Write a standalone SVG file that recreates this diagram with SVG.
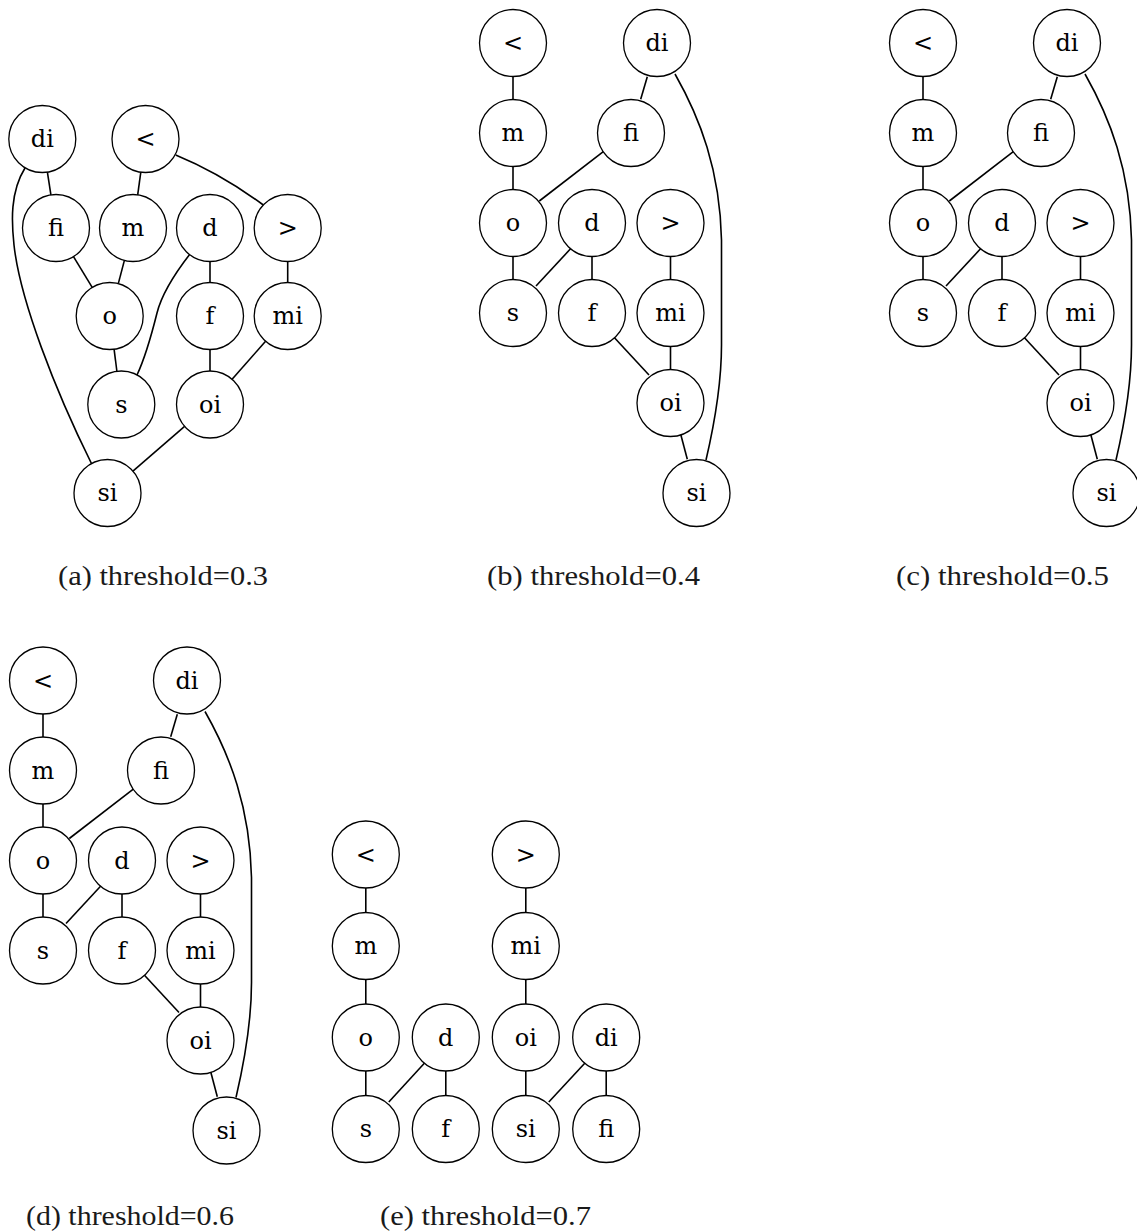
<svg xmlns="http://www.w3.org/2000/svg" width="1137" height="1231" viewBox="0 0 1137 1231">
  <style>
    .node circle { fill: #ffffff; stroke: #000000; stroke-width: 1.3; }
    .node text { font-family: "DejaVu Serif", "Liberation Serif", serif; font-size: 24px; text-anchor: middle; fill: #000000; }
    .edges path { fill: none; stroke: #000000; stroke-width: 1.6; }
    .cap { font-family: "Liberation Serif", "DejaVu Serif", serif; font-size: 28px; fill: #1a1a1a; }
  </style>
  <rect width="1137" height="1231" fill="#ffffff"/>

  <!-- (a) threshold 0.3 -->
  <g id="graph-a">
    <g id="edges-a" class="edges">
      <path d="M47.4,172.1 L50.9,194.9"/>
      <path d="M140.8,172.2 L137.7,194.8"/>
      <path d="M175.7,155 Q220.5,173.4 263.3,205"/>
      <path d="M73.5,256.6 L92.2,287.4"/>
      <path d="M124.4,260.4 L118.3,283.6"/>
      <path d="M190,254 C176,272 162,293 157,313 C152,333 145,358 137,375"/>
      <path d="M210,261.5 L210,282.5"/>
      <path d="M287.7,261.5 L287.7,282.5"/>
      <path d="M114.1,349.2 L116.9,371.3"/>
      <path d="M210,349.5 L210,371"/>
      <path d="M265.6,341.2 L232.1,379.3"/>
      <path d="M184.6,426.4 L132.9,471.1"/>
      <path d="M25,168 C10,192 11.5,222 14,245 C20,300 55,390 91.7,464"/>
    </g>
    <g id="a-di" class="node"><circle cx="42.3" cy="139" r="33.5"/><text x="42.3" y="147">di</text></g>
    <g id="a-lt" class="node"><circle cx="145.5" cy="139" r="33.5"/><text x="145.5" y="147">&lt;</text></g>
    <g id="a-fi" class="node"><circle cx="56" cy="228" r="33.5"/><text x="56" y="236">fi</text></g>
    <g id="a-m" class="node"><circle cx="133" cy="228" r="33.5"/><text x="133" y="236">m</text></g>
    <g id="a-d" class="node"><circle cx="210" cy="228" r="33.5"/><text x="210" y="236">d</text></g>
    <g id="a-gt" class="node"><circle cx="287.7" cy="228" r="33.5"/><text x="287.7" y="236">&gt;</text></g>
    <g id="a-o" class="node"><circle cx="109.7" cy="316" r="33.5"/><text x="109.7" y="324">o</text></g>
    <g id="a-f" class="node"><circle cx="210" cy="316" r="33.5"/><text x="210" y="324">f</text></g>
    <g id="a-mi" class="node"><circle cx="287.7" cy="316" r="33.5"/><text x="287.7" y="324">mi</text></g>
    <g id="a-s" class="node"><circle cx="121.3" cy="404.5" r="33.5"/><text x="121.3" y="412.5">s</text></g>
    <g id="a-oi" class="node"><circle cx="210" cy="404.5" r="33.5"/><text x="210" y="412.5">oi</text></g>
    <g id="a-si" class="node"><circle cx="107.5" cy="493" r="33.5"/><text x="107.5" y="501">si</text></g>
  </g>

  <!-- (b) threshold 0.4 -->
  <g id="graph-b">
    <g id="edges-b" class="edges">
      <path d="M513,76.5 V99.5"/>
      <path d="M513,166.5 V189.5"/>
      <path d="M513,256.5 V279.5"/>
      <path d="M647.3,76.7 L640.7,99.3"/>
      <path d="M603.3,151.7 L539.3,201"/>
      <path d="M571,248.3 L536,286"/>
      <path d="M592,256.5 V279.5"/>
      <path d="M670.5,256.5 V279.5"/>
      <path d="M614,337.3 L649,375"/>
      <path d="M670.5,346.5 V369.5"/>
      <path d="M680.7,434.3 L687.3,459.3"/>
      <path d="M675,74 C700,118 720,170 721.5,240 L721.5,345 C721.5,390 713,430 706,460"/>
    </g>
    <g id="b-lt" class="node"><circle cx="513" cy="43" r="33.5"/><text x="513" y="51">&lt;</text></g>
    <g id="b-di" class="node"><circle cx="657" cy="43" r="33.5"/><text x="657" y="51">di</text></g>
    <g id="b-m" class="node"><circle cx="513" cy="133" r="33.5"/><text x="513" y="141">m</text></g>
    <g id="b-fi" class="node"><circle cx="631" cy="133" r="33.5"/><text x="631" y="141">fi</text></g>
    <g id="b-o" class="node"><circle cx="513" cy="223" r="33.5"/><text x="513" y="231">o</text></g>
    <g id="b-d" class="node"><circle cx="592" cy="223" r="33.5"/><text x="592" y="231">d</text></g>
    <g id="b-gt" class="node"><circle cx="670.5" cy="223" r="33.5"/><text x="670.5" y="231">&gt;</text></g>
    <g id="b-s" class="node"><circle cx="513" cy="313" r="33.5"/><text x="513" y="321">s</text></g>
    <g id="b-f" class="node"><circle cx="592" cy="313" r="33.5"/><text x="592" y="321">f</text></g>
    <g id="b-mi" class="node"><circle cx="670.5" cy="313" r="33.5"/><text x="670.5" y="321">mi</text></g>
    <g id="b-oi" class="node"><circle cx="670.5" cy="403" r="33.5"/><text x="670.5" y="411">oi</text></g>
    <g id="b-si" class="node"><circle cx="696.5" cy="493" r="33.5"/><text x="696.5" y="501">si</text></g>
  </g>

  <!-- (c) threshold 0.5: same layout as (b), shifted right -->
  <g id="graph-c" transform="translate(410,0)">
    <g id="edges-c" class="edges">
      <path d="M513,76.5 V99.5"/>
      <path d="M513,166.5 V189.5"/>
      <path d="M513,256.5 V279.5"/>
      <path d="M647.3,76.7 L640.7,99.3"/>
      <path d="M603.3,151.7 L539.3,201"/>
      <path d="M571,248.3 L536,286"/>
      <path d="M592,256.5 V279.5"/>
      <path d="M670.5,256.5 V279.5"/>
      <path d="M614,337.3 L649,375"/>
      <path d="M670.5,346.5 V369.5"/>
      <path d="M680.7,434.3 L687.3,459.3"/>
      <path d="M675,74 C700,118 720,170 721.5,240 L721.5,345 C721.5,390 713,430 706,460"/>
    </g>
    <g id="c-lt" class="node"><circle cx="513" cy="43" r="33.5"/><text x="513" y="51">&lt;</text></g>
    <g id="c-di" class="node"><circle cx="657" cy="43" r="33.5"/><text x="657" y="51">di</text></g>
    <g id="c-m" class="node"><circle cx="513" cy="133" r="33.5"/><text x="513" y="141">m</text></g>
    <g id="c-fi" class="node"><circle cx="631" cy="133" r="33.5"/><text x="631" y="141">fi</text></g>
    <g id="c-o" class="node"><circle cx="513" cy="223" r="33.5"/><text x="513" y="231">o</text></g>
    <g id="c-d" class="node"><circle cx="592" cy="223" r="33.5"/><text x="592" y="231">d</text></g>
    <g id="c-gt" class="node"><circle cx="670.5" cy="223" r="33.5"/><text x="670.5" y="231">&gt;</text></g>
    <g id="c-s" class="node"><circle cx="513" cy="313" r="33.5"/><text x="513" y="321">s</text></g>
    <g id="c-f" class="node"><circle cx="592" cy="313" r="33.5"/><text x="592" y="321">f</text></g>
    <g id="c-mi" class="node"><circle cx="670.5" cy="313" r="33.5"/><text x="670.5" y="321">mi</text></g>
    <g id="c-oi" class="node"><circle cx="670.5" cy="403" r="33.5"/><text x="670.5" y="411">oi</text></g>
    <g id="c-si" class="node"><circle cx="696.5" cy="493" r="33.5"/><text x="696.5" y="501">si</text></g>
  </g>

  <!-- (d) threshold 0.6: same layout as (b), moved to the second row -->
  <g id="graph-d" transform="translate(-470,637.5)">
    <g id="edges-d" class="edges">
      <path d="M513,76.5 V99.5"/>
      <path d="M513,166.5 V189.5"/>
      <path d="M513,256.5 V279.5"/>
      <path d="M647.3,76.7 L640.7,99.3"/>
      <path d="M603.3,151.7 L539.3,201"/>
      <path d="M571,248.3 L536,286"/>
      <path d="M592,256.5 V279.5"/>
      <path d="M670.5,256.5 V279.5"/>
      <path d="M614,337.3 L649,375"/>
      <path d="M670.5,346.5 V369.5"/>
      <path d="M680.7,434.3 L687.3,459.3"/>
      <path d="M675,74 C700,118 720,170 721.5,240 L721.5,345 C721.5,390 713,430 706,460"/>
    </g>
    <g id="d-lt" class="node"><circle cx="513" cy="43" r="33.5"/><text x="513" y="51">&lt;</text></g>
    <g id="d-di" class="node"><circle cx="657" cy="43" r="33.5"/><text x="657" y="51">di</text></g>
    <g id="d-m" class="node"><circle cx="513" cy="133" r="33.5"/><text x="513" y="141">m</text></g>
    <g id="d-fi" class="node"><circle cx="631" cy="133" r="33.5"/><text x="631" y="141">fi</text></g>
    <g id="d-o" class="node"><circle cx="513" cy="223" r="33.5"/><text x="513" y="231">o</text></g>
    <g id="d-d" class="node"><circle cx="592" cy="223" r="33.5"/><text x="592" y="231">d</text></g>
    <g id="d-gt" class="node"><circle cx="670.5" cy="223" r="33.5"/><text x="670.5" y="231">&gt;</text></g>
    <g id="d-s" class="node"><circle cx="513" cy="313" r="33.5"/><text x="513" y="321">s</text></g>
    <g id="d-f" class="node"><circle cx="592" cy="313" r="33.5"/><text x="592" y="321">f</text></g>
    <g id="d-mi" class="node"><circle cx="670.5" cy="313" r="33.5"/><text x="670.5" y="321">mi</text></g>
    <g id="d-oi" class="node"><circle cx="670.5" cy="403" r="33.5"/><text x="670.5" y="411">oi</text></g>
    <g id="d-si" class="node"><circle cx="696.5" cy="493" r="33.5"/><text x="696.5" y="501">si</text></g>
  </g>

  <!-- (e) threshold 0.7 -->
  <g id="graph-e">
    <g id="edges-e" class="edges">
      <path d="M365.8,888 V912.5"/>
      <path d="M365.8,979.5 V1004"/>
      <path d="M365.8,1071 V1095.5"/>
      <path d="M424.8,1062.8 L388.8,1102"/>
      <path d="M445.8,1071 V1095.5"/>
      <path d="M525.8,888 V912.5"/>
      <path d="M525.8,979.5 V1004"/>
      <path d="M525.8,1071 V1095.5"/>
      <path d="M585.2,1062.8 L548.8,1102"/>
      <path d="M606.2,1071 V1095.5"/>
    </g>
    <g id="e-lt" class="node"><circle cx="365.8" cy="854.5" r="33.5"/><text x="365.8" y="862.5">&lt;</text></g>
    <g id="e-gt" class="node"><circle cx="525.8" cy="854.5" r="33.5"/><text x="525.8" y="862.5">&gt;</text></g>
    <g id="e-m" class="node"><circle cx="365.8" cy="946" r="33.5"/><text x="365.8" y="954">m</text></g>
    <g id="e-mi" class="node"><circle cx="525.8" cy="946" r="33.5"/><text x="525.8" y="954">mi</text></g>
    <g id="e-o" class="node"><circle cx="365.8" cy="1037.5" r="33.5"/><text x="365.8" y="1045.5">o</text></g>
    <g id="e-d" class="node"><circle cx="445.8" cy="1037.5" r="33.5"/><text x="445.8" y="1045.5">d</text></g>
    <g id="e-oi" class="node"><circle cx="525.8" cy="1037.5" r="33.5"/><text x="525.8" y="1045.5">oi</text></g>
    <g id="e-di" class="node"><circle cx="606.2" cy="1037.5" r="33.5"/><text x="606.2" y="1045.5">di</text></g>
    <g id="e-s" class="node"><circle cx="365.8" cy="1129" r="33.5"/><text x="365.8" y="1137">s</text></g>
    <g id="e-f" class="node"><circle cx="445.8" cy="1129" r="33.5"/><text x="445.8" y="1137">f</text></g>
    <g id="e-si" class="node"><circle cx="525.8" cy="1129" r="33.5"/><text x="525.8" y="1137">si</text></g>
    <g id="e-fi" class="node"><circle cx="606.2" cy="1129" r="33.5"/><text x="606.2" y="1137">fi</text></g>
  </g>

  <!-- subfigure captions -->
  <g id="captions">
    <text class="cap" x="58" y="585" textLength="210" lengthAdjust="spacingAndGlyphs">(a) threshold=0.3</text>
    <text class="cap" x="487" y="585" textLength="213" lengthAdjust="spacingAndGlyphs">(b) threshold=0.4</text>
    <text class="cap" x="896" y="585" textLength="213" lengthAdjust="spacingAndGlyphs">(c) threshold=0.5</text>
    <text class="cap" x="26" y="1225" textLength="208" lengthAdjust="spacingAndGlyphs">(d) threshold=0.6</text>
    <text class="cap" x="380" y="1225" textLength="211" lengthAdjust="spacingAndGlyphs">(e) threshold=0.7</text>
  </g>
</svg>
